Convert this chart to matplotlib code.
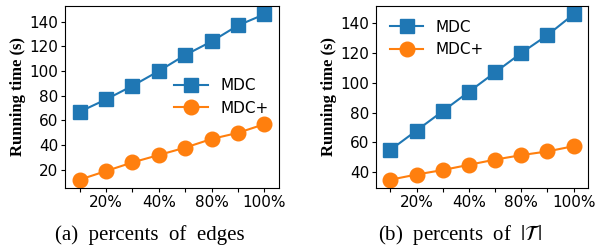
import matplotlib
matplotlib.use("Agg")
import matplotlib.pyplot as plt

# x positions (8 sample points), labels on every second point
positions = [1, 2, 3, 4, 5, 6, 7, 8]
tick_labels = ["", "20%", "", "40%", "", "80%", "", "100%"]

# (a) percents of edges
edges_mdc = [67, 77, 88, 100, 113, 124, 137, 146]
edges_mdcp = [12, 19, 26, 32, 38, 45, 50, 57]

# (b) percents of |T|
t_mdc = [55, 68, 81, 94, 107, 120, 132, 146]
t_mdcp = [35, 38.5, 41.5, 45, 48.5, 51.5, 54, 57.5]

plt.rcParams["mathtext.fontset"] = "stix"
SERIF = ["Liberation Serif", "DejaVu Serif"]

fig = plt.figure(figsize=(6.07, 2.48), dpi=100)
ax1 = fig.add_axes([65 / 607, 1 - 188 / 248, 214 / 607, 182 / 248])
ax2 = fig.add_axes([376 / 607, 1 - 188 / 248, 212 / 607, 182 / 248])

panels = [
    (ax1, edges_mdc, edges_mdcp, range(20, 141, 20), "center right", (1.0, 0.5),
     "(a)  percents  of  edges", 150),
    (ax2, t_mdc, t_mdcp, range(40, 141, 20), "upper left", None,
     r"(b)  percents  of  $|\mathcal{T}\,|$", 460),
]

for ax, mdc, mdcp, yticks, loc, anchor, caption, cx in panels:
    ax.plot(positions, mdc, marker="s", markersize=10.5, linewidth=1.5,
            color="#1f77b4", label="MDC")
    ax.plot(positions, mdcp, marker="o", markersize=10.5, linewidth=1.5,
            color="#ff7f0e", label="MDC+")
    ax.set_xlim(0.45, 8.55)
    ax.set_xticks(positions)
    ax.set_xticklabels(tick_labels)
    ax.set_yticks(list(yticks))
    ax.tick_params(labelsize=11, length=3, pad=2)
    ax.set_ylabel("Running time (s)", family=SERIF, fontweight="bold", fontsize=12, labelpad=2)
    if anchor is not None:
        ax.legend(loc=loc, bbox_to_anchor=anchor, frameon=False, fontsize=11,
                  handlelength=2.2, borderaxespad=0.3)
    else:
        ax.legend(loc=loc, frameon=False, fontsize=11, handlelength=2.2)
    fig.text(cx / 607, 1 - 240 / 248, caption, ha="center", va="baseline",
             family=SERIF, fontsize=15)

fig.savefig("out.png", dpi=100)
